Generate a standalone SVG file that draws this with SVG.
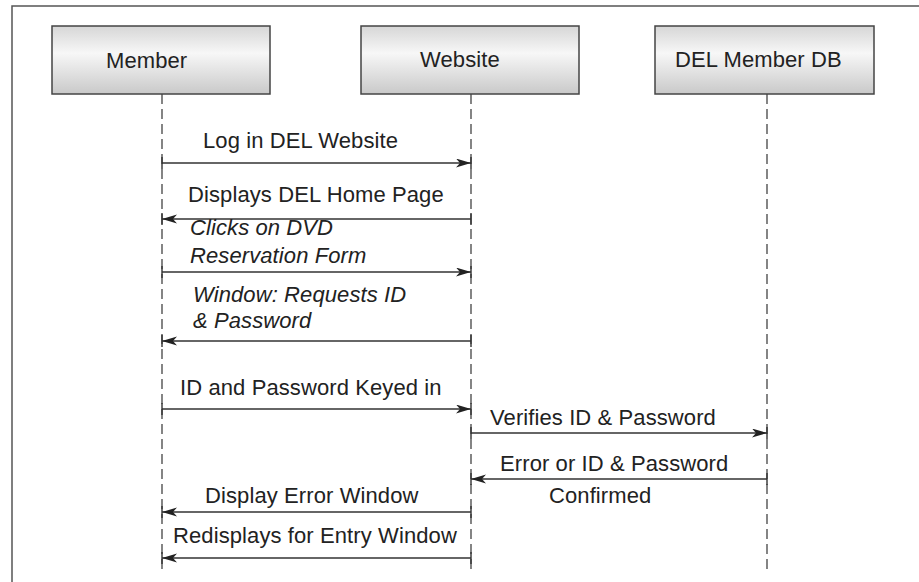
<svg xmlns="http://www.w3.org/2000/svg" width="919" height="582" viewBox="0 0 919 582">
<style>
.box{stroke:#444;stroke-width:1.5;fill:url(#g)}
.t{font-family:"Liberation Sans",Arial,sans-serif;font-size:22px;fill:#222;letter-spacing:0.1px}
.i{font-style:italic}
.life{stroke:#444;stroke-width:1.3;stroke-dasharray:10 5;fill:none}
.msg{stroke:#333;stroke-width:1.4;fill:none;marker-end:url(#ah)}
.tick{stroke:#333;stroke-width:1.4}
.frame{stroke:#555;stroke-width:1.5;fill:none}
</style>
<defs>
<linearGradient id="g" x1="0" y1="0" x2="0" y2="1">
<stop offset="0" stop-color="#d6d6d6"/>
<stop offset="0.4" stop-color="#f7f7f7"/>
<stop offset="1" stop-color="#c9c9c9"/>
</linearGradient>
<marker id="ah" markerWidth="16" markerHeight="10" refX="15" refY="4.5" orient="auto" markerUnits="userSpaceOnUse">
<path d="M0,0 L15,4.5 L0,9 L4,4.5 Z" fill="#222"/>
</marker>
</defs>
<rect width="919" height="582" fill="#fff"/>
<path class="frame" d="M12,582 V6 H919"/>
<g id="member">
<rect class="box" x="52" y="26" width="218" height="68"/>
<text class="t" x="106" y="68">Member</text>
<line class="life" x1="162" y1="94" x2="162" y2="572"/>
</g>
<g id="website">
<rect class="box" x="361" y="26" width="218" height="68"/>
<text class="t" x="420" y="67">Website</text>
<line class="life" x1="471" y1="94" x2="471" y2="572"/>
</g>
<g id="db">
<rect class="box" x="655" y="26" width="219" height="68"/>
<text class="t" x="675" y="67">DEL Member DB</text>
<line class="life" x1="767" y1="94" x2="767" y2="572"/>
</g>
<g id="connectors">
<line class="msg" x1="162" y1="163" x2="471" y2="163"/>
<line class="msg" x1="471" y1="219" x2="162" y2="219"/>
<line class="msg" x1="162" y1="272" x2="471" y2="272"/>
<line class="msg" x1="471" y1="341" x2="162" y2="341"/>
<line class="msg" x1="162" y1="409" x2="471" y2="409"/>
<line class="msg" x1="471" y1="433" x2="767" y2="433"/>
<line class="msg" x1="767" y1="479" x2="471" y2="479"/>
<line class="msg" x1="471" y1="512" x2="162" y2="512"/>
<line class="msg" x1="471" y1="558" x2="162" y2="558"/>
<path class="tick" d="M162,157V169 M471,157V169 M162,213V225 M471,213V225 M162,266V278 M471,266V278 M162,335V347 M471,335V347 M162,403V415 M471,403V415 M471,427V439 M767,427V439 M471,473V485 M767,473V485 M162,506V518 M471,506V518 M162,552V564 M471,552V564"/>
<text class="t" x="203" y="148">Log in DEL Website</text>
<text class="t" x="188" y="202">Displays DEL Home Page</text>
<text class="t i" x="190" y="235">Clicks on DVD</text>
<text class="t i" x="190" y="263">Reservation Form</text>
<text class="t i" x="193" y="302">Window: Requests ID</text>
<text class="t i" x="193" y="328">&amp; Password</text>
<text class="t" x="180" y="395">ID and Password Keyed in</text>
<text class="t" x="490" y="425">Verifies ID &amp; Password</text>
<text class="t" x="500" y="471">Error or ID &amp; Password</text>
<text class="t" x="549" y="503">Confirmed</text>
<text class="t" x="205" y="503">Display Error Window</text>
<text class="t" x="173" y="543">Redisplays for Entry Window</text>
</g>
</svg>
